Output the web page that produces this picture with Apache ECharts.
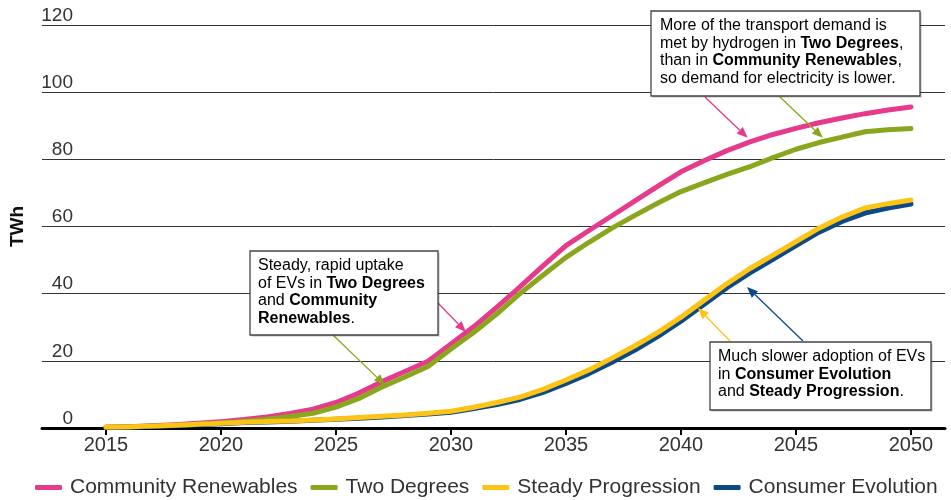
<!DOCTYPE html>
<html>
<head>
<meta charset="utf-8">
<script src="https://cdn.jsdelivr.net/npm/echarts@6/dist/echarts.min.js"></script>
<style>
html,body{margin:0;padding:0;background:#fff;}
#chart{width:951px;height:500px;}
</style>
</head>
<body>
<div id="chart"></div>
<script>
var years = [2015,2016,2017,2018,2019,2020,2021,2022,2023,2024,2025,2026,2027,2028,2029,2030,2031,2032,2033,2034,2035,2036,2037,2038,2039,2040,2041,2042,2043,2044,2045,2046,2047,2048,2049,2050];
var communityRenewables = [0.2,0.4,0.7,1.0,1.4,1.9,2.5,3.3,4.3,5.6,7.6,10.4,13.8,16.8,19.9,25.0,30.2,36.0,42.0,48.3,54.3,58.8,63.2,67.6,72.0,76.3,79.6,82.6,85.2,87.4,89.2,90.9,92.3,93.6,94.7,95.6];
var twoDegrees = [0.1,0.3,0.5,0.8,1.1,1.5,2.0,2.6,3.4,4.4,6.2,8.8,12.2,15.2,18.3,23.5,28.5,34.0,40.0,45.5,50.8,55.3,59.5,63.3,67.0,70.4,73.0,75.5,77.8,80.5,83.0,85.0,86.6,88.2,88.8,89.2];
var steadyProgression = [0.3,0.4,0.6,0.8,1.1,1.4,1.7,1.9,2.1,2.4,2.7,3.1,3.5,3.9,4.4,5.0,6.2,7.6,9.2,11.5,14.3,17.3,20.8,24.5,28.5,33.0,38.0,43.0,47.5,51.5,55.5,59.5,62.8,65.5,66.8,67.9];
var consumerEvolution = [0.2,0.3,0.5,0.7,1.0,1.3,1.6,1.8,2.0,2.3,2.6,2.9,3.3,3.7,4.2,4.7,5.8,7.0,8.5,10.6,13.3,16.2,19.6,23.2,27.3,31.8,36.8,41.8,46.2,50.2,54.3,58.3,61.5,64.0,65.5,66.7];
var seriesNames = ['Community Renewables','Two Degrees','Steady Progression','Consumer Evolution'];
var xTicks = [2015,2020,2025,2030,2035,2040,2045,2050];
var yTicks = [0,20,40,60,80,100,120];

var colors = {
  'Community Renewables':'#E63B8C',
  'Two Degrees':'#8AA61C',
  'Steady Progression':'#FDC315',
  'Consumer Evolution':'#0B4A86'
};

function pairs(arr){ return years.map(function(y,i){ return [y, arr[i]]; }); }

var FONT = '"Liberation Sans", Arial, Helvetica, sans-serif';
var chart = echarts.init(document.getElementById('chart'), null, {renderer:'canvas'});

function lineSeries(name, data, z){
  return {
    name: name, type: 'line', data: pairs(data), showSymbol: false, symbol: 'none',
    z: z, silent: true, animation: false,
    lineStyle: {color: colors[name], width: 5, cap: 'round', join: 'round'},
    itemStyle: {color: colors[name]}
  };
}

chart.setOption({
  animation: false,
  textStyle: {fontFamily: FONT},
  grid: {left: 42, right: 6, top: 25, bottom: 72, containLabel: false, outerBoundsMode: 'none'},
  legend: {
    data: seriesNames,
    left: 30, top: 472,
    icon: 'roundRect',
    itemWidth: 27, itemHeight: 5, itemGap: 13,
    textStyle: {fontSize: 21, color: '#333', fontFamily: FONT, padding: [0,0,0,3]}
  },
  xAxis: {
    type: 'value', min: 2012.22, max: 2051.48,
    axisLine: {show: true, onZero: true, lineStyle: {color: '#000', width: 3}},
    axisTick: {show: true, length: 7, lineStyle: {color: '#000', width: 2}, customValues: xTicks},
    axisLabel: {show: true, customValues: xTicks, color: '#333', fontSize: 20, margin: 7, fontFamily: FONT,
      formatter: function(v){ return String(Math.round(v)); }},
    splitLine: {show: false}
  },
  yAxis: {
    type: 'value', min: 0, max: 120, interval: 20,
    name: 'TWh', nameLocation: 'middle', nameGap: 15, nameRotate: 90,
    nameTextStyle: {fontSize: 19, fontWeight: 'bold', color: '#111', fontFamily: FONT},
    axisLine: {show: false}, axisTick: {show: false},
    axisLabel: {inside: true, align: 'right', verticalAlign: 'bottom', margin: 31, color: '#333', fontSize: 19, fontFamily: FONT,
      formatter: function(v){ return yTicks.indexOf(v) >= 0 ? String(v) : ''; }},
    splitLine: {show: true, lineStyle: {color: '#333', width: 1}}
  },
  series: [
    lineSeries('Community Renewables', communityRenewables, 3),
    lineSeries('Two Degrees', twoDegrees, 4),
    lineSeries('Steady Progression', steadyProgression, 6),
    lineSeries('Consumer Evolution', consumerEvolution, 5)
  ]
});

// Annotations: arrow tips anchored in data coordinates
var annot = [
  {box: [250,251,188,84], tx: 258, ty: 257,
   text: '{n|Steady, rapid uptake}\n{n|of EVs in }{b|Two Degrees}\n{n|and }{b|Community}\n{b|Renewables}{n|.}',
   arrows: [
     {from: [438,303], tip: [2030.65, 28.6], color: colors['Community Renewables']},
     {from: [333,335], tip: [2027.13, 12.8], color: colors['Two Degrees']}
   ]},
  {box: [651,11,269,85], tx: 660, ty: 17,
   text: '{n|More of the transport demand is}\n{n|met by hydrogen in }{b|Two Degrees}{n|,}\n{n|than in }{b|Community Renewables}{n|,}\n{n|so demand for electricity is lower.}',
   arrows: [
     {from: [705,97], tip: [2042.9, 86.4], color: colors['Community Renewables']},
     {from: [780,97], tip: [2046.17, 86.4], color: colors['Two Degrees']}
   ]},
  {box: [710,342,221,68], tx: 718, ty: 348,
   text: '{n|Much slower adoption of EVs}\n{n|in }{b|Consumer Evolution}\n{n|and }{b|Steady Progression}{n|.}',
   arrows: [
     {from: [730,341], tip: [2040.74, 35.7], color: colors['Steady Progression']},
     {from: [803,341], tip: [2042.87, 42.0], color: colors['Consumer Evolution']}
   ]}
];

var graphics = [];
annot.forEach(function(a){
  a.arrows.forEach(function(ar){
    var t = chart.convertToPixel({gridIndex: 0}, ar.tip);
    var fx = ar.from[0], fy = ar.from[1];
    var dx = t[0]-fx, dy = t[1]-fy, L = Math.sqrt(dx*dx+dy*dy);
    var ux = dx/L, uy = dy/L, hl = 11, hw = 4.5;
    var bx = t[0]-ux*hl, by = t[1]-uy*hl;
    graphics.push({type:'line', z: 20, silent: true, shape:{x1:fx,y1:fy,x2:bx,y2:by}, style:{stroke: ar.color, lineWidth: 1.3}});
    graphics.push({type:'polygon', z: 20, silent: true, shape:{points:[[t[0],t[1]],[bx-uy*hw,by+ux*hw],[bx+uy*hw,by-ux*hw]]}, style:{fill: ar.color}});
  });
  graphics.push({type:'rect', z: 21, silent: true, shape:{x:a.box[0]+1.5,y:a.box[1]+1.5,width:a.box[2],height:a.box[3]}, style:{fill:'rgba(0,0,0,0.25)'}});
  graphics.push({type:'rect', z: 22, silent: true, shape:{x:a.box[0],y:a.box[1],width:a.box[2],height:a.box[3]}, style:{fill:'#fff', stroke:'#444', lineWidth:1.3}});
  graphics.push({type:'text', z: 23, silent: true, x: a.tx, y: a.ty, style:{
    text: a.text, fontFamily: FONT, fontSize: 16, lineHeight: 17.5,
    rich: {
      n: {fontSize: 16, color: '#333', fontFamily: FONT, lineHeight: 17.5},
      b: {fontSize: 16, color: '#222', fontWeight: 'bold', fontFamily: FONT, lineHeight: 17.5}
    }
  }});
});
chart.setOption({graphic: graphics});
</script>
</body>
</html>
